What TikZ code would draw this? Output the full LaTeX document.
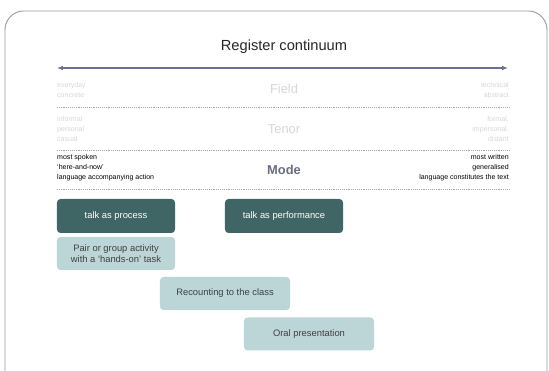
\documentclass[tikz,border=0pt]{standalone}
\usepackage{fontspec}
\setmainfont{Liberation Sans}
\usetikzlibrary{arrows.meta, positioning}

\definecolor{darkteal}{HTML}{3F6565}
\definecolor{paleteal}{HTML}{BCD5D7}
\definecolor{arrowgrey}{HTML}{6E7290}
\definecolor{modegrey}{HTML}{676C7E}
\definecolor{fadegrey}{HTML}{D6D6D6}
\definecolor{framegrey}{HTML}{9C9C9C}

\begin{document}
\begin{tikzpicture}[x=0.03cm, y=-0.03cm,
  darkbox/.style={rectangle, fill=darkteal, text=white, rounded corners=3pt, minimum width=3.54cm, minimum height=1.02cm, align=center, font=\fontsize{8}{9.5}\selectfont},
  palebox/.style={rectangle, fill=paleteal, text=black!75, rounded corners=3pt, minimum height=0.99cm, align=center, font=\fontsize{8}{9.5}\selectfont},
  rowlabel/.style={font=\fontsize{11}{13}\selectfont, text=fadegrey},
  sidetext/.style={font=\fontsize{6}{8.6}\selectfont, inner sep=0pt, text=fadegrey},
  separator/.style={densely dotted, draw=black!35, line width=0.6pt},
  arrow/.style={line width=1.6pt, draw=arrowgrey, {Latex[length=5pt,width=4pt]}-{Latex[length=5pt,width=4pt]}}]

\useasboundingbox (0,0) rectangle (549,371);
\clip (0,0) rectangle (549,371);
\draw[framegrey, line width=0.8pt, rounded corners=16pt] (5,400) -- (5,11) -- (547,11) -- (547,400);

% title and continuum
\node[font=\fontsize{12.5}{15}\selectfont, text=black!85] (title) at (284,47) {Register continuum};
\coordinate (spoken) at (57,68);
\coordinate (written) at (508,68);
\draw[arrow] (spoken) -- (written);

% register rows
\node[rowlabel] (field) at (284,89) {Field};
\node[rowlabel] (tenor) at (284,129) {Tenor};
\node[rowlabel, text=modegrey, font=\fontsize{11}{13}\bfseries\selectfont] (mode) at (284,170) {Mode};

\node[sidetext, anchor=west, align=left] (fieldleft) at (57,90) {everyday\\concrete};
\node[sidetext, anchor=east, align=right] (fieldright) at (509,90) {technical\\abstract};
\node[sidetext, anchor=west, align=left] (tenorleft) at (57,129) {informal\\personal\\casual};
\node[sidetext, anchor=east, align=right] (tenorright) at (509,129) {formal,\\impersonal,\\distant};
\node[sidetext, text=black, anchor=west, align=left] (modeleft) at (57,168) {most spoken\\`here-and-now'\\language accompanying action};
\node[sidetext, text=black, anchor=east, align=right] (moderight) at (509,168) {most written\\generalised\\language constitutes the text};

\coordinate (sepa) at (57,107);
\coordinate (sepb) at (510,107);
\coordinate (sepc) at (57,150);
\coordinate (sepd) at (510,150);
\coordinate (sepe) at (57,189);
\coordinate (sepf) at (510,189);
\draw[separator] (sepa) -- (sepb);
\draw[separator] (sepc) -- (sepd);
\draw[separator] (sepe) -- (sepf);

% talk types and activities
\node[darkbox] (process) at (116,216) {talk as process};
\node[darkbox] (performance) at (284,216) {talk as performance};
\node[palebox, minimum width=3.54cm] (pairwork) at (116,253.5) {Pair or group activity\\with a `hands-on' task};
\node[palebox, minimum width=3.9cm] (recount) at (225,293.5) {Recounting to the class};
\node[palebox, minimum width=3.9cm] (oral) at (309,334) {Oral presentation};

\end{tikzpicture}
\end{document}
